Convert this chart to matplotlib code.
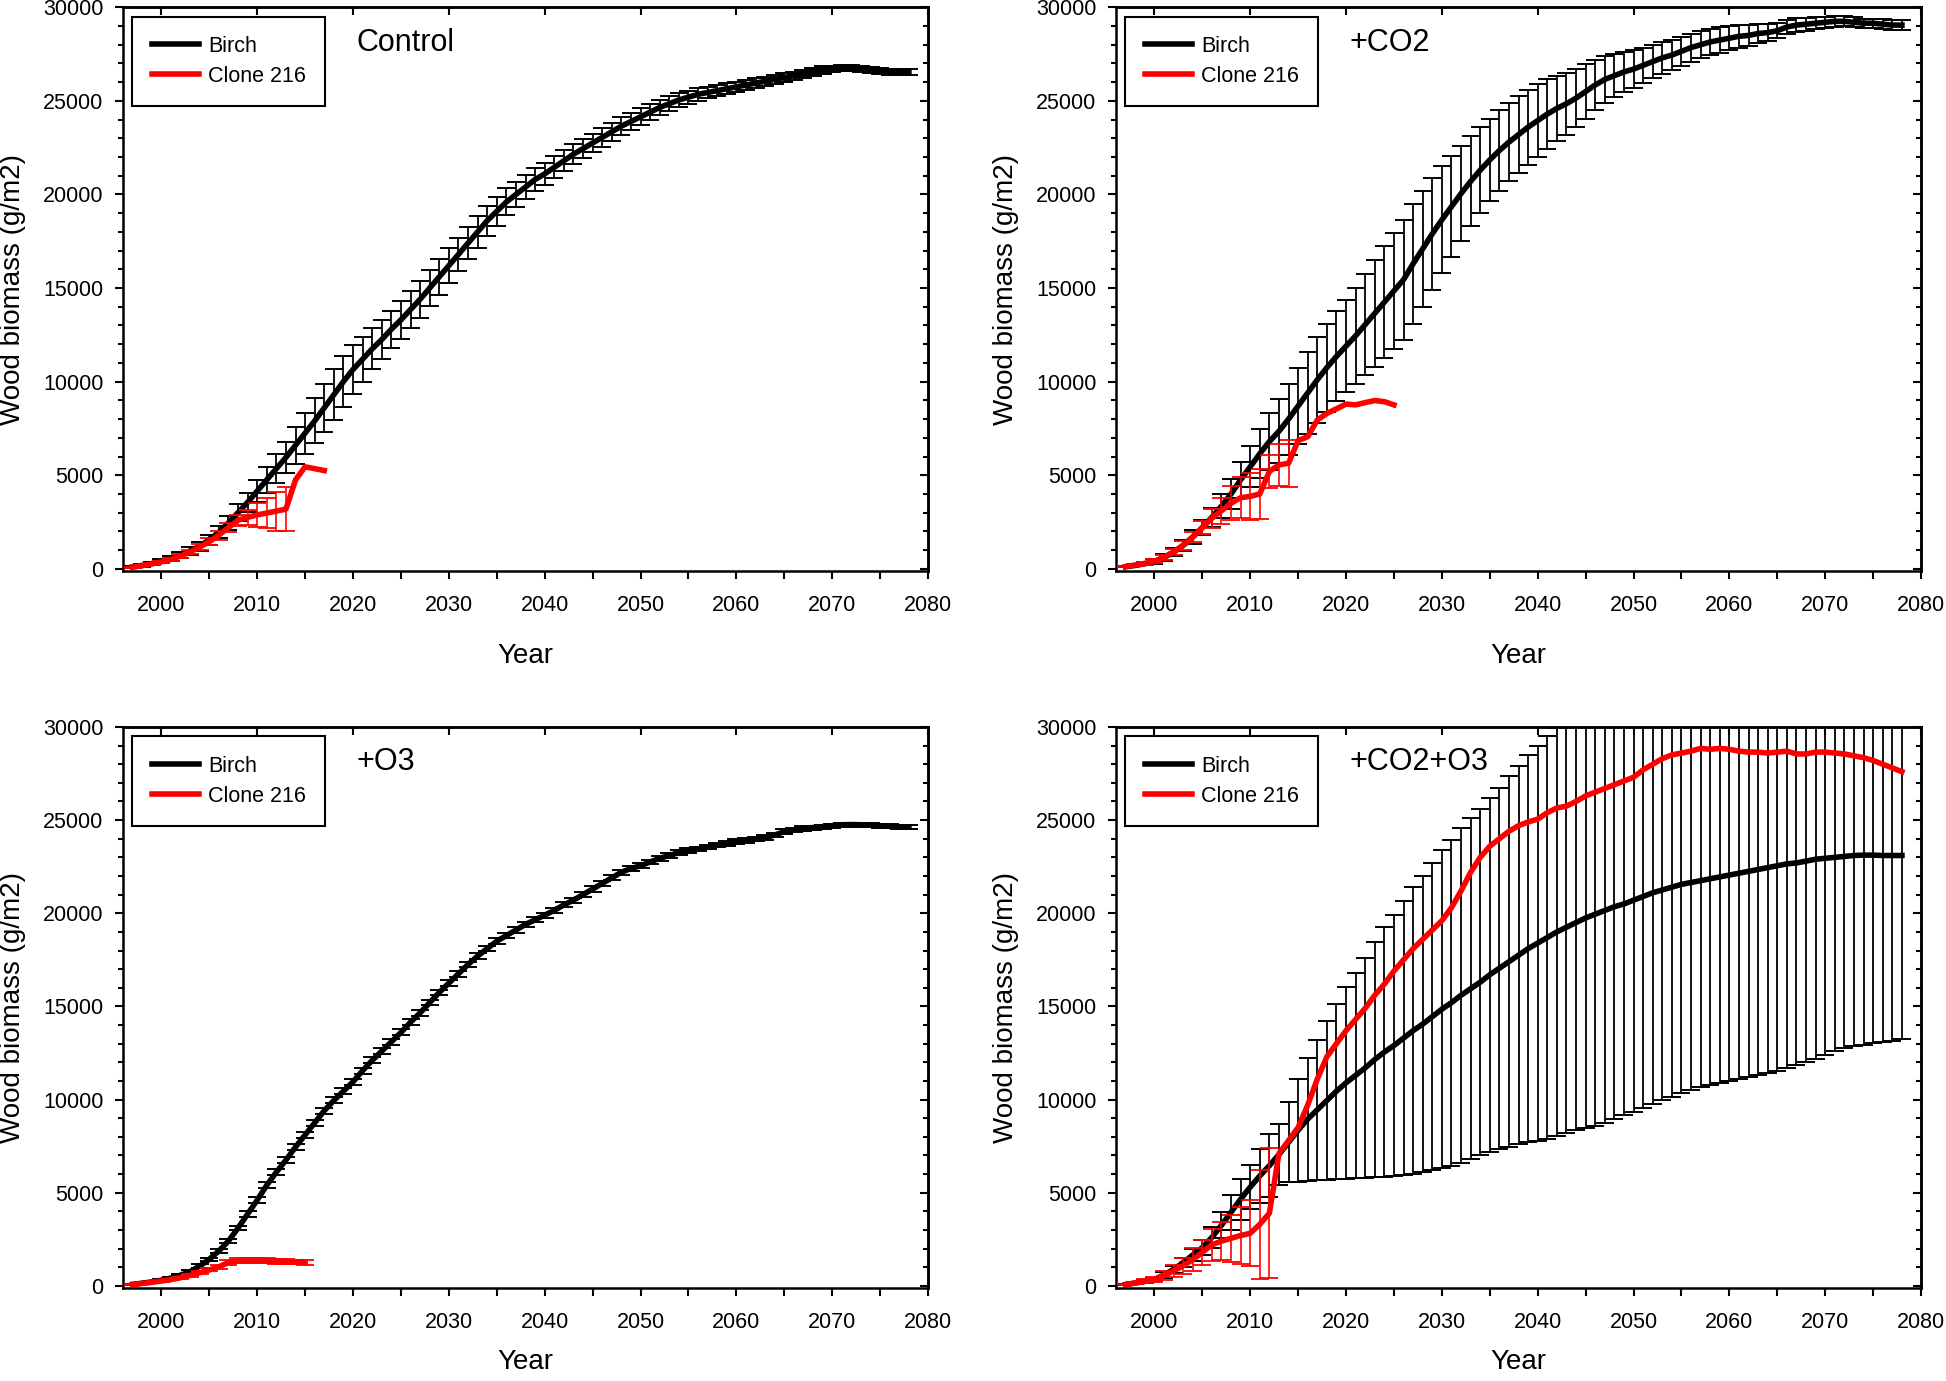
import matplotlib
matplotlib.use('Agg')
import matplotlib.pyplot as plt
from matplotlib.ticker import MultipleLocator
import numpy as np

plt.rcParams['font.family'] = ['Liberation Sans', 'DejaVu Sans']

# years of the simulation (birch runs over the whole period)
years = np.arange(1997, 2079)

# --- Control ---
birch_ctrl = [
    100, 180, 280, 400, 540, 720, 950, 1200, 1550, 1950,
    2450, 3000, 3550, 4150, 4750, 5350, 5950, 6600, 7250, 7900,
    8600, 9300, 10000, 10650, 11200, 11750, 12250, 12800, 13300, 13850,
    14400, 15000, 15600, 16200, 16800, 17400, 18000, 18600, 19100, 19600,
    20000, 20400, 20800, 21100, 21450, 21800, 22150, 22450, 22750, 23050,
    23350, 23650, 23900, 24150, 24400, 24650, 24850, 25050, 25200, 25350,
    25450, 25550, 25650, 25750, 25850, 25950, 26050, 26150, 26250, 26350,
    26450, 26550, 26650, 26700, 26750, 26750, 26700, 26650, 26600, 26550,
    26550, 26550]
birch_ctrl_err = [
    40, 60, 80, 100, 130, 160, 200, 240, 280, 320,
    380, 450, 520, 600, 680, 760, 840, 1000, 1100, 1200,
    1300, 1350, 1350, 1300, 1200, 1100, 1050, 1000, 1000, 1000,
    1000, 980, 960, 940, 900, 870, 840, 800, 760, 720,
    680, 650, 620, 600, 580, 560, 540, 520, 500, 490,
    480, 470, 460, 450, 430, 410, 390, 370, 350, 330,
    310, 300, 290, 280, 270, 260, 250, 240, 230, 220,
    210, 200, 190, 180, 170, 160, 150, 150, 150, 150,
    150, 150]
clone_ctrl = [90, 170, 260, 370, 500, 680, 900, 1160, 1450, 1800, 2200,
              2600, 2750, 2880, 2980, 3080, 3190, 4750, 5450, 5350, 5250]
clone_ctrl_err = [30, 40, 50, 60, 80, 100, 130, 160, 200, 240, 250,
                  300, 400, 650, 800, 1040, 1170]

# --- +CO2 ---
birch_co2 = [
    110, 180, 270, 380, 600, 880, 1250, 1700, 2200, 2750,
    3350, 4000, 4750, 5450, 6150, 6800, 7350, 8000, 8700, 9400,
    10100, 10750, 11350, 11900, 12450, 13050, 13650, 14250, 14850, 15450,
    16300, 17100, 17900, 18650, 19350, 20050, 20700, 21300, 21850, 22350,
    22800, 23200, 23600, 23950, 24300, 24600, 24850, 25150, 25500, 25850,
    26150, 26350, 26550, 26700, 26900, 27100, 27300, 27450, 27650, 27850,
    28000, 28150, 28250, 28350, 28450, 28500, 28600, 28650, 28750, 28950,
    29050, 29100, 29150, 29200, 29250, 29250, 29200, 29150, 29150, 29100,
    29050, 29050]
birch_co2_err = [
    30, 50, 80, 120, 170, 220, 280, 350, 420, 520,
    650, 800, 950, 1100, 1300, 1500, 1700, 1900, 2050, 2200,
    2300, 2350, 2400, 2450, 2550, 2700, 2850, 3000, 3100, 3200,
    3200, 3100, 3000, 2850, 2700, 2550, 2400, 2300, 2200, 2150,
    2100, 2050, 2000, 1950, 1850, 1750, 1650, 1550, 1450, 1350,
    1250, 1150, 1050, 1000, 950, 900, 850, 800, 780, 750,
    720, 700, 680, 650, 600, 550, 500, 450, 400, 380,
    360, 340, 320, 300, 280, 270, 260, 250, 250, 250,
    250, 250]
clone_co2 = [120, 200, 290, 400, 620, 900, 1250, 1700, 2200, 2700,
             3100, 3500, 3800, 3870, 4000, 5200, 5550, 5640, 6850, 7060,
             7950, 8300, 8550, 8800, 8760, 8880, 8990, 8930, 8760]
clone_co2_err = [30, 50, 70, 100, 130, 170, 220, 280, 350, 500,
                 700, 900, 1100, 1250, 1350, 900, 1100, 1250]

# --- +O3 ---
birch_o3 = [
    80, 140, 210, 300, 420, 570, 760, 1060, 1420, 1870,
    2400, 3100, 3850, 4600, 5400, 6100, 6750, 7450, 8100, 8750,
    9400, 9950, 10450, 10950, 11550, 12100, 12600, 13100, 13600, 14150,
    14650, 15200, 15750, 16250, 16750, 17250, 17700, 18100, 18500, 18800,
    19100, 19400, 19650, 19900, 20150, 20450, 20700, 21000, 21300, 21600,
    21900, 22200, 22400, 22550, 22750, 22950, 23100, 23250, 23350, 23450,
    23550, 23650, 23750, 23850, 23900, 23980, 24060, 24200, 24380, 24480,
    24550, 24600, 24650, 24700, 24750, 24760, 24750, 24730, 24700, 24660,
    24640, 24640]
birch_o3_err = [
    20, 30, 40, 50, 60, 70, 80, 90, 100, 110,
    120, 130, 140, 150, 150, 160, 160, 160, 160, 160,
    160, 160, 160, 160, 160, 160, 160, 160, 160, 160,
    150, 150, 150, 150, 150, 150, 150, 150, 150, 150,
    140, 140, 140, 140, 140, 140, 140, 140, 140, 140,
    130, 130, 130, 130, 130, 130, 130, 130, 130, 130,
    120, 120, 120, 120, 120, 120, 120, 120, 120, 120,
    110, 110, 110, 110, 110, 110, 110, 110, 110, 110,
    110, 110]
clone_o3 = [70, 130, 190, 260, 330, 440, 560, 700, 850, 1020,
            1250, 1360, 1380, 1380, 1350, 1320, 1300, 1280, 1260]
clone_o3_err = [20, 25, 30, 35, 40, 50, 60, 70, 80, 100,
                120, 130, 130, 130, 130, 130, 130, 130, 130]

# --- +CO2+O3 ---
birch_co2o3 = [
    70, 150, 240, 340, 580, 880, 1250, 1650, 2050, 2600,
    3250, 3950, 4650, 5300, 5900, 6450, 7050, 7700, 8350, 8950,
    9450, 9950, 10450, 10900, 11300, 11700, 12150, 12550, 12900, 13300,
    13700, 14050, 14450, 14850, 15200, 15600, 15950, 16300, 16700, 17050,
    17400, 17750, 18100, 18400, 18700, 19000, 19250, 19500, 19750, 19950,
    20150, 20350, 20500, 20700, 20900, 21100, 21250, 21400, 21550, 21650,
    21750, 21850, 21950, 22050, 22150, 22250, 22350, 22450, 22550, 22650,
    22700, 22800, 22900, 22950, 23000, 23050, 23100, 23120, 23120, 23100,
    23100, 23100]
# lower end of the birch error bars (bars are symmetric)
birch_co2o3_low = [
    40, 100, 170, 240, 430, 680, 1000, 1350, 1650, 2050,
    2550, 3000, 3550, 4100, 4450, 4750, 5400, 5550, 5600, 5650,
    5700, 5700, 5750, 5750, 5800, 5800, 5850, 5850, 5900, 5950,
    6000, 6100, 6200, 6300, 6450, 6600, 6800, 7000, 7200, 7350,
    7450, 7600, 7700, 7800, 7900, 8050, 8200, 8350, 8450, 8600,
    8750, 8950, 9150, 9350, 9550, 9750, 9950, 10150, 10350, 10500,
    10650, 10800, 10900, 11000, 11100, 11200, 11300, 11400, 11550, 11700,
    11850, 12000, 12200, 12400, 12600, 12750, 12850, 12950, 13050, 13100,
    13150, 13250]
clone_co2o3 = [
    70, 150, 240, 340, 560, 800, 1080, 1400, 1800, 2200,
    2400, 2550, 2700, 2820, 3300, 3900, 7100, 7800, 8500, 9700,
    11100, 12300, 13000, 13700, 14300, 14900, 15600, 16200, 16900, 17500,
    18100, 18600, 19100, 19600, 20300, 21200, 22200, 23000, 23600, 24000,
    24400, 24700, 24900, 25050, 25400, 25650, 25750, 26000, 26300, 26500,
    26700, 26900, 27100, 27300, 27700, 28000, 28300, 28500, 28600, 28700,
    28850, 28800, 28850, 28800, 28700, 28650, 28650, 28600, 28650, 28700,
    28550, 28550, 28650, 28650, 28600, 28550, 28450, 28350, 28200, 28000,
    27800, 27600]
clone_co2o3_err = [40, 70, 100, 150, 250, 300, 430, 620, 665, 850,
                   1030, 1250, 1550, 1780, 2940, 3500]


def draw_panel(ax, title, birch, birch_err, clone, clone_err, year_y=-0.127):
    birch = np.asarray(birch)
    clone = np.asarray(clone)
    ne = len(clone_err)

    # birch: error bars then mean line
    ax.errorbar(years, birch, yerr=birch_err, fmt='none', ecolor='black',
                elinewidth=1.3, capsize=6.5, capthick=1.4, zorder=2)
    ax.plot(years, birch, color='black', lw=4, label='Birch', zorder=3)

    # clone 216 (shorter runs, error bars only where shown)
    ax.errorbar(years[:ne], clone[:ne], yerr=clone_err, fmt='none',
                ecolor='red', elinewidth=1.2, capsize=6.5, capthick=1.3, zorder=4)
    ax.plot(years[:len(clone)], clone, color='red', lw=4,
            label='Clone 216', zorder=5)

    ax.set_xlim(1996, 2080)
    ax.set_ylim(-120, 30000)
    ax.xaxis.set_major_locator(MultipleLocator(10))
    ax.xaxis.set_minor_locator(MultipleLocator(5))
    ax.yaxis.set_major_locator(MultipleLocator(5000))
    ax.yaxis.set_minor_locator(MultipleLocator(1000))
    ax.tick_params(which='both', direction='out', top=False, right=False,
                   width=1.5, labelsize=15.5, colors='black')
    ax.tick_params(which='major', length=6)
    ax.tick_params(axis='x', which='minor', length=5.5)
    ax.tick_params(axis='y', which='minor', length=3.5)
    ax.tick_params(axis='x', pad=11)
    ax.tick_params(axis='y', pad=8)
    for sp in ax.spines.values():
        sp.set_linewidth(1.8)

    # inward ticks on top and right
    top = ax.secondary_xaxis('top')
    top.xaxis.set_major_locator(MultipleLocator(10))
    top.tick_params(direction='in', length=6, width=1.5, labeltop=False)
    top.spines['top'].set_linewidth(1.8)
    right = ax.secondary_yaxis('right')
    right.yaxis.set_major_locator(MultipleLocator(5000))
    right.yaxis.set_minor_locator(MultipleLocator(1000))
    right.tick_params(which='both', direction='in', width=1.5, labelright=False)
    right.tick_params(which='major', length=6)
    right.tick_params(which='minor', length=3.5)
    right.spines['right'].set_linewidth(1.8)

    ax.set_xlabel('Year', fontsize=20)
    ax.xaxis.set_label_coords(0.5, year_y)
    ax.set_ylabel('Wood biomass (g/m2)', fontsize=20)
    ax.yaxis.set_label_coords(-0.1205, 0.5)

    ax.text(0.29, 0.937, title, transform=ax.transAxes, fontsize=22,
            ha='left', va='center')

    leg = ax.legend(loc='upper left', fontsize=15.5, frameon=True, fancybox=False,
                    edgecolor='black', framealpha=1, borderpad=0.9,
                    handlelength=2.2, handletextpad=0.42, labelspacing=0.42,
                    borderaxespad=0.43)
    leg.get_frame().set_linewidth(1.5)


fig = plt.figure(figsize=(19.46, 13.81), dpi=100)

ax1 = fig.add_axes([0.0632, 0.5865, 0.4137, 0.4082])
ax2 = fig.add_axes([0.5735, 0.5865, 0.4137, 0.4082])
ax3 = fig.add_axes([0.0632, 0.0673, 0.4137, 0.4063])
ax4 = fig.add_axes([0.5735, 0.0673, 0.4137, 0.4063])

draw_panel(ax1, 'Control', birch_ctrl, birch_ctrl_err, clone_ctrl, clone_ctrl_err)
draw_panel(ax2, '+CO2', birch_co2, birch_co2_err, clone_co2, clone_co2_err)
# bottom row: keep the "Year" label just inside the figure
draw_panel(ax3, '+O3', birch_o3, birch_o3_err, clone_o3, clone_o3_err,
           year_y=-0.108)
co2o3_err = np.asarray(birch_co2o3) - np.asarray(birch_co2o3_low)
draw_panel(ax4, '+CO2+O3', birch_co2o3, co2o3_err, clone_co2o3, clone_co2o3_err,
           year_y=-0.108)

fig.savefig('out.png', dpi=100)
plt.close(fig)
